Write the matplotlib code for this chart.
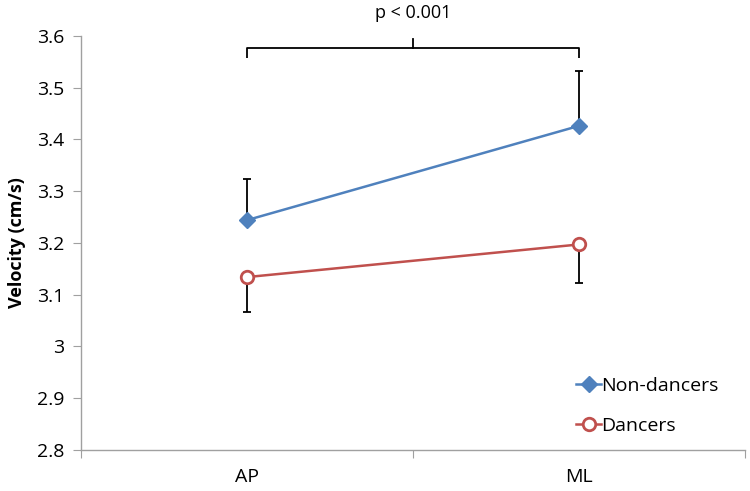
import matplotlib
matplotlib.use("Agg")
import matplotlib.pyplot as plt

categories = ["AP", "ML"]
non_dancers = [3.244, 3.426]
non_dancers_err_up = [0.080, 0.106]
dancers = [3.134, 3.197]
dancers_err_down = [0.067, 0.074]
yticks = [2.8, 2.9, 3.0, 3.1, 3.2, 3.3, 3.4, 3.5, 3.6]
ytick_labels = ["2.8", "2.9", "3", "3.1", "3.2", "3.3", "3.4", "3.5", "3.6"]
p_text = "p < 0.001"

plt.rcParams['font.family'] = ['Open Sans', 'DejaVu Sans']

fig = plt.figure(figsize=(7.5, 4.91), dpi=100)
ax = fig.add_axes([0.108, 0.0835, 0.885, 0.8435])

x = list(range(len(categories)))
blue = "#4F81BD"
red = "#C0504D"

ax.errorbar(x, non_dancers, yerr=[[0, 0], non_dancers_err_up], fmt='none',
            ecolor='black', elinewidth=1.3, capsize=3, capthick=1.3, zorder=2)
ax.errorbar(x, dancers, yerr=[dancers_err_down, [0, 0]], fmt='none',
            ecolor='black', elinewidth=1.3, capsize=3, capthick=1.3, zorder=2)

ax.plot(x, non_dancers, color=blue, lw=1.8, marker='D', markersize=8,
        markerfacecolor=blue, markeredgecolor=blue, label="Non-dancers", zorder=3)
ax.plot(x, dancers, color=red, lw=1.8, marker='o', markersize=9,
        markerfacecolor='white', markeredgecolor=red, markeredgewidth=2,
        label="Dancers", zorder=3)

ax.set_xlim(-0.5, 1.5)
ax.set_ylim(2.8, 3.6)
ax.set_yticks(yticks)
ax.set_yticklabels(ytick_labels, fontsize=14)
ax.set_xticks([-0.5, 0.5, 1.5])
ax.set_xticklabels([])
ax.set_xticks(x, minor=True)
ax.set_xticklabels(categories, minor=True, fontsize=14)
ax.tick_params(axis='x', which='minor', length=0, pad=13)
ax.tick_params(axis='x', which='major', length=6, color='#A0A0A0', direction='out')
ax.tick_params(axis='y', length=6, color='#A0A0A0', direction='out', pad=6)

for s in ['top', 'right']:
    ax.spines[s].set_visible(False)
for s in ['left', 'bottom']:
    ax.spines[s].set_color('#A0A0A0')
    ax.spines[s].set_linewidth(1.0)

ax.set_ylabel("Velocity (cm/s)", fontsize=13, fontweight='bold', labelpad=8)

# significance bracket
by = 3.577
ax.plot([x[0], x[0], x[1], x[1]], [by - 0.02, by, by, by - 0.02], color='black',
        lw=1.3, clip_on=False, solid_capstyle='butt')
ax.plot([(x[0] + x[1]) / 2] * 2, [by, by + 0.017], color='black', lw=1.3, clip_on=False)
ax.text((x[0] + x[1]) / 2, 3.644, p_text, ha='center', va='center', fontsize=13)

ax.legend(loc='lower right', bbox_to_anchor=(0.987, -0.005), frameon=False, fontsize=14,
          handlelength=1.3, handletextpad=0.0, labelspacing=1.1)

fig.savefig("out.png", dpi=100)
